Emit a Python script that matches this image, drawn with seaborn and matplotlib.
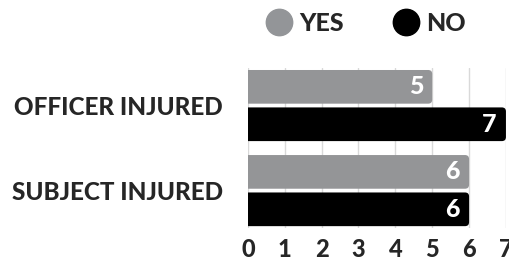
import matplotlib
matplotlib.use("Agg")
import matplotlib.pyplot as plt
import seaborn as sns
import pandas as pd
from matplotlib.lines import Line2D
from matplotlib.patches import FancyBboxPatch

# --- dados ---
categorias = ["OFFICER INJURED", "SUBJECT INJURED"]
series = ["YES", "NO"]
valores_yes = [5, 6]
valores_no = [7, 6]
ticks_x = [0, 1, 2, 3, 4, 5, 6, 7]
cores = {"YES": "#939598", "NO": "#000000"}

df = pd.DataFrame({
    "categoria": categorias * 2,
    "serie": ["YES"] * len(categorias) + ["NO"] * len(categorias),
    "valor": valores_yes + valores_no,
})

sns.set_style("white")
plt.rcParams["font.family"] = ["Lato", "DejaVu Sans"]

fig = plt.figure(figsize=(5.09, 2.60), dpi=100)
ax = fig.add_axes([0.487, 0.123, 0.507, 0.615])

sns.barplot(data=df, y="categoria", x="valor", hue="serie", hue_order=series,
            palette=cores, orient="h", width=0.88, gap=0.1, legend=False,
            ax=ax, zorder=3)

ax.set_xlim(0, 7)
ax.set_ylim(1.44, -0.44)

# cantos arredondados (lado direito) - troca os retangulos por FancyBboxPatch
r = 0.11
aspecto = 36.8 / 85.0
for cont in ax.containers:
    for p in cont.patches:
        x0, y0, w, h = p.get_x(), p.get_y(), p.get_width(), p.get_height()
        novo = FancyBboxPatch((x0 - 2 * r, y0), w + 2 * r, h,
                              boxstyle=f"round,pad=0,rounding_size={r}",
                              mutation_aspect=aspecto,
                              facecolor=p.get_facecolor(), edgecolor="none",
                              zorder=3)
        ax.add_patch(novo)
        p.set_visible(False)

ax.set_xticks(ticks_x)
ax.set_xticklabels([str(t) for t in ticks_x], fontsize=17, fontweight="black")
ax.set_yticks(range(len(categorias)))
ax.set_yticklabels(categorias, fontsize=17.5, fontweight="black")
ax.tick_params(axis="y", length=0, pad=18)
ax.tick_params(axis="x", length=0, pad=7)
ax.set_xlabel("")
ax.set_ylabel("")
ax.grid(axis="x", color="#d9d9d9", linewidth=1, zorder=0)
ax.grid(axis="y", visible=False)
for s in ax.spines.values():
    s.set_visible(False)

# rótulos de valor dentro das barras
for cont in ax.containers:
    ax.bar_label(cont, padding=-17, color="white", fontsize=18, fontweight="black")

# legenda
handles = [Line2D([], [], marker="o", linestyle="", markersize=19,
                  markerfacecolor=cores[s], markeredgecolor=cores[s], label=s)
           for s in series]
fig.legend(handles=handles, loc="center", bbox_to_anchor=(0.72, 0.91), ncol=2,
           frameon=False, prop={"size": 18, "weight": "black"},
           handletextpad=0.3, columnspacing=2.0, handlelength=1.0)

fig.savefig("out.png", dpi=100)
